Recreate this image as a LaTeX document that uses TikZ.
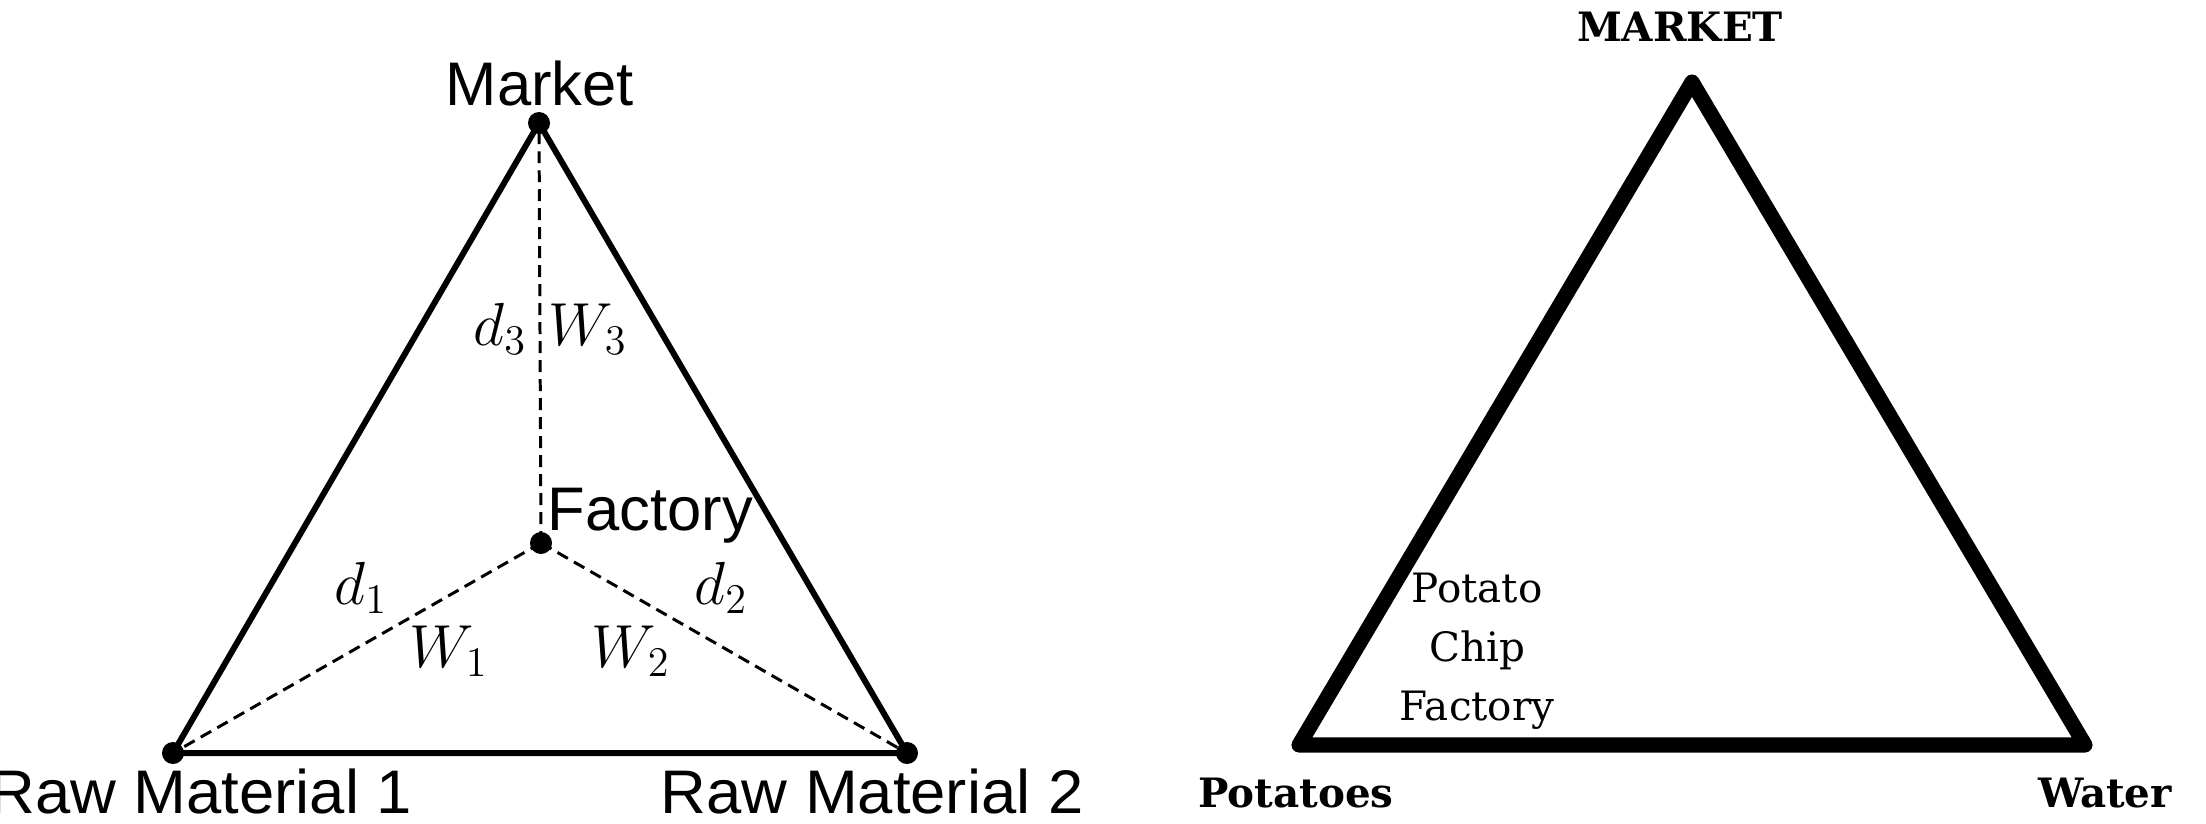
\documentclass[tikz,border=0pt]{standalone}
\usepackage[no-math]{fontspec}
\newfontfamily\labelfont{Liberation Sans}
\newfontfamily\widelabelfont[FakeStretch=1.03]{Liberation Sans}
\newfontfamily\slabfont{DejaVu Serif}
\tikzset{
	site/.style={circle,fill=black,inner sep=0pt,minimum size=0.22cm},
	edge/.style={line width=1.7pt},
	leg/.style={line width=0.85pt,dash pattern=on 3.4pt off 2pt},
	lbl/.style={inner sep=0pt,anchor=base,font=\labelfont\fontsize{17.5}{21}\selectfont},
	rawlbl/.style={inner sep=0pt,font=\widelabelfont\fontsize{17.5}{21}\selectfont},
	wt/.style={inner sep=0pt,anchor=base,font=\fontsize{17.5}{21}\selectfont},
	corner/.style={inner sep=0pt,anchor=base,font=\slabfont\bfseries\fontsize{11.5}{14}\selectfont},
}

\begin{document}
\begin{tikzpicture}[x=0.01cm,y=-0.01cm]
			%%%%% START %%%%%
			\def\base{753}
			\def\lab{813}
			\def\thick{4.3pt}
			\useasboundingbox (0,0) rectangle (2206,823);

			% weber triangle
			\coordinate (mkt) at (539,123);
			\coordinate (rma) at (173,\base);
			\coordinate (rmb) at (907,\base);
			\coordinate (fac) at (541,543);

			\draw[edge] (rma) -- (mkt) -- (rmb) -- cycle;
			\draw[leg] (fac) -- (mkt);
			\draw[leg] (fac) -- (rma);
			\draw[leg] (fac) -- (rmb);

			\node[site] (mktdot) at (mkt) {};
			\node[site] (rmadot) at (rma) {};
			\node[site] (rmbdot) at (rmb) {};
			\node[site] (facdot) at (fac) {};

			\node[lbl] (mktlab) at (540,105) {Market};
			\node[lbl,anchor=base west] (faclab) at (547,530) {Factory};
			\node[rawlbl,anchor=base east] (rmalab) at (413,\lab) {Raw Material 1};
			\node[rawlbl,anchor=base west] (rmblab) at (660,\lab) {Raw Material 2};

			\node[wt] (dc) at (500,345) {$d_3$};
			\node[wt] (wc) at (588,345) {$W_3$};
			\node[wt] (da) at (361,604) {$d_1$};
			\node[wt] (wa) at (449,667) {$W_1$};
			\node[wt] (wb) at (631,667) {$W_2$};
			\node[wt] (db) at (721,604) {$d_2$};

			% potato chips
			\coordinate (apex) at (1692,82);
			\coordinate (pot) at (1299,745);
			\coordinate (wat) at (2085,745);
			\draw[line width=\thick,line join=round] (apex) -- (pot) -- (wat) -- cycle;

			\node[corner] (market) at (1680,41) {MARKET};
			\node[corner] (potatoes) at (1296,807) {Potatoes};
			\node[corner] (water) at (2105,807) {Water};
			\node[inner sep=0pt,anchor=north,align=center,font=\slabfont\fontsize{11.5}{16.8}\selectfont] (chips) at (1477,572) {Potato\\Chip\\Factory};
			%%%%% END %%%%%
\end{tikzpicture}
\end{document}
